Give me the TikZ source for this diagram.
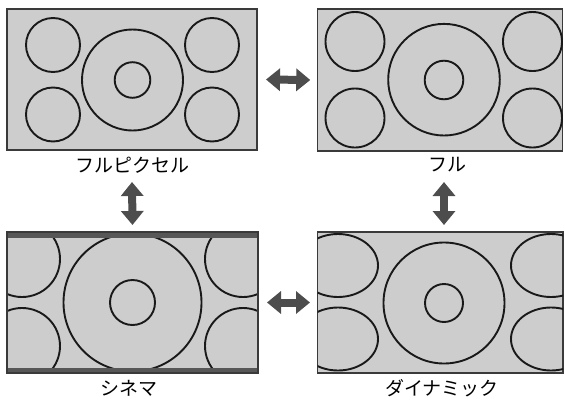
\documentclass[tikz,border=0pt]{standalone}
\usepackage{fontspec}
\newfontfamily\jpfont{Noto Sans CJK JP}
\usetikzlibrary{arrows.meta}
\definecolor{screengray}{HTML}{CDCDCD}
\definecolor{framegray}{HTML}{3A3A3A}
\definecolor{bargray}{HTML}{575757}
\definecolor{arrowgray}{HTML}{4D4D4D}

\begin{document}
\begin{tikzpicture}[x=1pt,y=-1pt,
  panel/.style={draw=framegray,fill=screengray,line width=1.4pt,inner sep=0pt,outer sep=0pt},
  ring/.style={draw=black!90,line width=1.9pt},
  caption/.style={font=\jpfont\fontsize{19}{22}\selectfont,inner sep=0pt},
  dblarrow/.style={draw=arrowgray,line width=8pt,{Triangle[length=14pt,width=22pt]}-{Triangle[length=14pt,width=22pt]}}
]
  \useasboundingbox (0,0) rectangle (565,399);

  % top row
  \node[panel,minimum width=250pt,minimum height=141pt] (fullpixel) at (132,79.5) {};
  \node[panel,minimum width=245pt,minimum height=142pt] (full) at (440.25,80) {};
  % bottom row
  \node[panel,minimum width=251pt,minimum height=141pt] (cinema) at (132.5,302.5) {};
  \node[panel,minimum width=245.5pt,minimum height=141pt] (dynamic) at (440.25,302.5) {};

  % full pixel
  \foreach \cx/\cy in {53/45,53/114.5,212/45,212/114.5}
    \draw[ring] (\cx,\cy) circle[radius=27];
  \draw[ring] (132.5,80) circle[radius=50.5];
  \draw[ring] (132.5,80) circle[radius=17.8];

  % full
  \begin{scope}
    \clip (full.south west) rectangle (full.north east);
    \foreach \cx/\cy in {355/41.5,355/118,532.5/41.5,532.5/118}
      \draw[ring] (\cx,\cy) circle[radius=29.5];
    \draw[ring] (444,79.7) circle[radius=55.8];
    \draw[ring] (444,80) circle[radius=19.3];
  \end{scope}

  % cinema
  \begin{scope}
    \clip (cinema.south west) rectangle (cinema.north east);
    \foreach \cx/\cy in {22/259,22/346,243/259,243/346}
      \draw[ring] (\cx,\cy) circle[radius=38];
    \draw[ring] (132.5,302.5) circle[radius=69];
    \draw[ring] (132.5,302.5) circle[radius=22.5];
    \fill[bargray] (cinema.north west) rectangle ([yshift=-6pt]cinema.north east);
    \fill[bargray] (cinema.south west) rectangle ([yshift=5.5pt]cinema.south east);
  \end{scope}
  \draw[framegray,line width=1.4pt] (cinema.south west) rectangle (cinema.north east);

  % dynamic
  \begin{scope}
    \clip (dynamic.south west) rectangle (dynamic.north east);
    \foreach \cx/\cy in {338/265.5,338/339,551/265.5,551/339}
      \draw[ring] (\cx,\cy) ellipse[x radius=40,y radius=31.5];
    \draw[ring] (444,303) circle[radius=60.5];
    \draw[ring] (444,303) circle[radius=19];
  \end{scope}

  % captions
  \node[caption] (fullpixel label) at (132,165) {フルピクセル};
  \node[caption] (full label) at (447,165) {フル};
  \node[caption] (cinema label) at (129,388) {シネマ};
  \node[caption] (dynamic label) at (442,388) {ダイナミック};

  % switching arrows
  \draw[dblarrow] ([xshift=9pt]fullpixel.east) -- ([xshift=-7.5pt]full.west);
  \draw[dblarrow] ([xshift=9pt]cinema.east) -- ([xshift=-7.5pt]dynamic.west);
  \draw[dblarrow] ([yshift=-32pt]fullpixel.south) -- ([yshift=7pt]cinema.north);
  \draw[dblarrow] ([xshift=3.75pt,yshift=-31pt]full.south) -- ([xshift=3.75pt,yshift=7pt]dynamic.north);
\end{tikzpicture}
\end{document}
